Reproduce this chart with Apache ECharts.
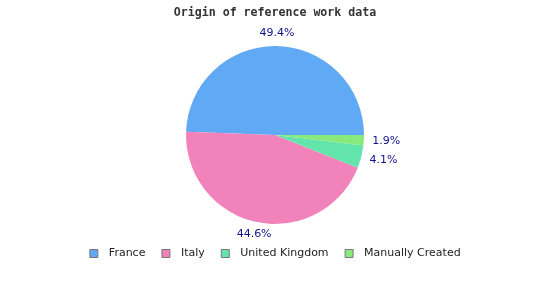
<!DOCTYPE html>
<html>
<head>
    <meta charset="utf-8">
    <title>Origin of reference work data</title>
    <style>
        html, body, #chart {
            margin: 0;
            padding: 0;
            width: 550px;
            height: 300px;
            background: #fff;
        }
    </style>
    <script src="https://cdn.jsdelivr.net/npm/echarts@6/dist/echarts.min.js"></script>
</head>
<body>
    <div id="chart"></div>
    <script>
        // data
        var categories = ['France', 'Italy', 'United Kingdom', 'Manually Created'];
        var shares = [49.4, 44.6, 4.1, 1.9];
        var colors = ['#60a9f4', '#f283ba', '#62e4ab', '#88ea7c'];

        var pieData = categories.map(function (name, i) {
            return { name: name, value: shares[i] };
        });

        var chart = echarts.init(document.getElementById('chart'));

        var option = {
            animation: false,
            color: colors,
            title: {
                text: 'Origin of reference work data',
                left: 'center',
                top: 7,
                padding: 0,
                textStyle: {
                    fontFamily: 'DejaVu Sans Mono',
                    fontSize: 11.6,
                    fontWeight: 'bold',
                    color: '#333'
                }
            },
            legend: {
                data: categories,
                bottom: 41,
                left: 'center',
                padding: 0,
                icon: 'rect',
                itemWidth: 8,
                itemHeight: 8,
                itemGap: 16,
                itemStyle: {
                    borderColor: '#777',
                    borderWidth: 1
                },
                textStyle: {
                    fontFamily: 'DejaVu Sans',
                    fontSize: 11,
                    color: '#222',
                    padding: [0, 0, 0, 6]
                }
            },
            series: [
                {
                    // the pie itself
                    type: 'pie',
                    center: [275, 135],
                    radius: 89,
                    startAngle: 0,
                    clockwise: false,
                    data: pieData,
                    label: { show: false },
                    labelLine: { show: false },
                    emphasis: { disabled: true }
                },
                {
                    // transparent ring used only to place the percentage labels
                    type: 'pie',
                    center: [275, 135],
                    radius: [89, 108],
                    startAngle: 0,
                    clockwise: false,
                    silent: true,
                    data: pieData,
                    itemStyle: { color: 'rgba(0,0,0,0)' },
                    label: {
                        show: true,
                        position: 'inside',
                        formatter: function (p) { return p.value.toFixed(1) + '%'; },
                        fontFamily: 'DejaVu Sans',
                        fontSize: 11,
                        color: '#10108a'
                    },
                    labelLayout: function (params) {
                        // labels on the right side start at the anchor
                        var cx = params.labelRect.x + params.labelRect.width / 2;
                        if (cx > 340) {
                            return { dx: 10 };
                        }
                        return {};
                    },
                    labelLine: { show: false },
                    emphasis: { disabled: true }
                }
            ]
        };

        chart.setOption(option);
    </script>
</body>
</html>
